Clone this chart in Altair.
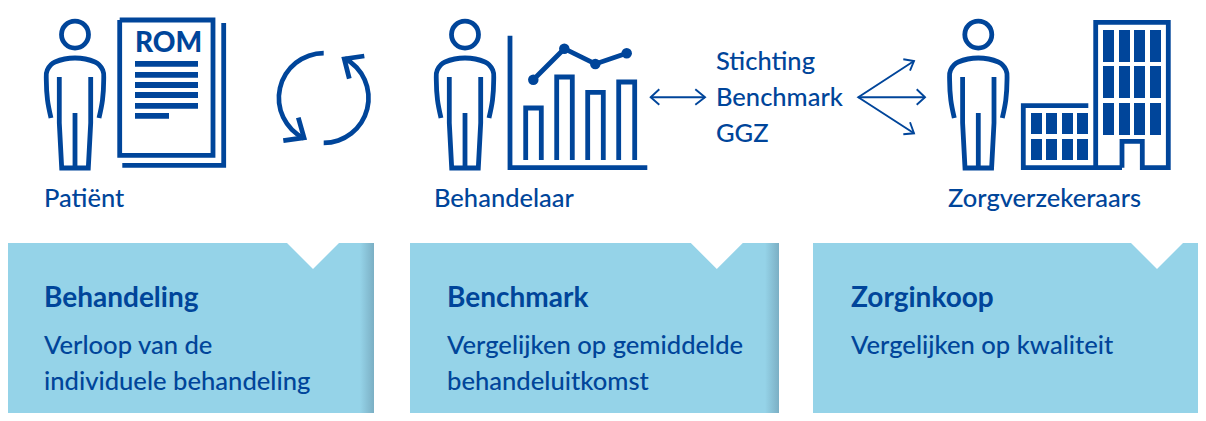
import altair as alt
import pandas as pd

BLUE = "#00459A"
CARD = "#95D3E8"
FONT = "Lato"

# person template (px coordinates in the picture)
person_offsets = [0, 390, 903.3]
person_body = [(51,118),(47.5,100),(46.3,80),(47.3,70),(55,62),(75,58),(95,62),(102.7,70),(103.7,80),(102.5,100),(99,118)]
person_legs = [
    [(59.3,77),(59.3,123),(61.7,168),(88.3,168),(90.7,123),(90.7,77)],
    [(75,113),(75,168)],
]
head_x, head_y = 75, 34.6

thick_paths = [
    # ROM document
    [(119.7,20),(213,20),(213,155.3),(119.7,155.3),(119.7,20)],
    [(122.3,165.3),(223.7,165.3),(223.7,23)],
    # cycle arrow heads
    [(283.3,140.7),(304,137.7),(298.3,117.7)],
    [(364.3,56),(344.3,59),(349.3,78.7)],
    # chart axes and bars
    [(510,35.7),(510,167.7),(647.3,167.7)],
    [(525.7,160),(525.7,108),(541.3,108),(541.3,160)],
    [(556.7,160),(556.7,77),(572.3,77),(572.3,160)],
    [(587.7,160),(587.7,92.3),(603.3,92.3),(603.3,160)],
    [(618.7,160),(618.7,82),(634.7,82),(634.7,160)],
    [(533.3,79.7),(564.3,48.7),(595.3,64),(626.7,53.3)],
    # buildings
    [(1122,167.7),(1122,141.3),(1142.3,141.3),(1142.3,167.7),(1168.3,167.7),(1168.3,22.3),(1095.7,22.3),(1095.7,167.7)],
    [(1122,167.7),(1023.3,167.7),(1023.3,105.7),(1088.3,105.7)],
]
thin_paths = [
    [(650.7,97.3),(705,97.3)],
    [(659.3,89.3),(650.7,97.3),(659.3,104.7)],
    [(695.3,89.3),(705,97.3),(695.3,104.7)],
    [(914,61),(858.3,97.3),(914,133.3)],
    [(858.3,97.3),(925,97.3)],
    [(903.3,59.3),(914,61),(910,70.7)],
    [(916.7,89.3),(925,97.3),(916.7,104.7)],
    [(903.3,134.3),(914,133.3),(910,122.3)],
]
chart_dots_x = [533.3,564.3,595.3,626.7]
chart_dots_y = [79.7,48.7,64,53.3]

rom_lines_y = [(61,66.7),(72,77.7),(82,88),(92,98),(103,108.7)]
rom_line_x = (135,198)
rom_short = (135,169,113,118.7)

tall_cols = [(1103,1114),(1119,1130),(1134,1145),(1150,1161)]
tall_rows = [(30,62),(66,98),(103,135)]
small_cols = [(1031,1042),(1046,1057),(1062,1073),(1077,1088)]
small_rows = [(113,134),(139,160)]

cards = [(7,374),(410,779),(813,1206)]
triangle_tips = [313,716.8,1157]
labels = [
    (44,207,"Patiënt"),(434,207,"Behandelaar"),(948,207,"Zorgverzekeraars"),
    (716,70,"Stichting"),(716,106,"Benchmark"),(716,142,"GGZ"),
]
card_titles = [(44,307,"Behandeling"),(447,307,"Benchmark"),(851,307,"Zorginkoop")]
card_texts = [
    (44,354,"Verloop van de"),(44,390,"individuele behandeling"),
    (447,354,"Vergelijken op gemiddelde"),(447,390,"behandeluitkomst"),
    (851,354,"Vergelijken op kwaliteit"),
]

X = alt.Scale(domain=[8,1198], nice=False, zero=False, clamp=True)
Y = alt.Scale(domain=[413,8], nice=False, zero=False, clamp=True)
x = alt.X("x:Q", scale=X, axis=None)
y = alt.Y("y:Q", scale=Y, axis=None)
x2 = alt.X2("x2:Q")
y2 = alt.Y2("y2:Q")

def paths_df(paths):
    rows = []
    for i, p in enumerate(paths):
        for j, (a, b) in enumerate(p):
            rows.append({"x": a, "y": b, "g": i, "o": j})
    return pd.DataFrame(rows)

def line_layer(paths, width, interp="linear", cap="butt", join="miter"):
    return alt.Chart(paths_df(paths)).mark_line(
        color=BLUE, strokeWidth=width, interpolate=interp, strokeCap=cap, strokeJoin=join
    ).encode(x=x, y=y, detail="g:N", order="o:Q")

def rects(rows, color=BLUE):
    df = pd.DataFrame(rows, columns=["x","x2","y","y2"])
    return alt.Chart(df).mark_rect(color=color).encode(x=x, x2=x2, y=y, y2=y2)

def texts(rows, size, weight="normal", font=FONT):
    df = pd.DataFrame(rows, columns=["x","y","t"])
    return alt.Chart(df).mark_text(align="left", baseline="alphabetic", font=font, fontSize=size,
                                   fontWeight=weight, color=BLUE).encode(x=x, y=y, text="t:N")

layers = []

# cards
layers.append(rects([(a,b,243,421) for a,b in cards], CARD))
shade = alt.LinearGradient(gradient="linear", x1=0, x2=1, y1=0, y2=0,
                           stops=[alt.GradientStop(color=CARD, offset=0),
                                  alt.GradientStop(color="#7BAFC4", offset=1)])
df_sh = pd.DataFrame([(b-14,b,243,421) for a,b in cards[:2]], columns=["x","x2","y","y2"])
layers.append(alt.Chart(df_sh).mark_rect(color=shade).encode(x=x, x2=x2, y=y, y2=y2))
for t in triangle_tips:
    tri = pd.DataFrame({"x":[t-26,t,t+26],"y":[243,243,243],"y2":[243,269,243]})
    layers.append(alt.Chart(tri).mark_area(color="white", interpolate="linear", opacity=1).encode(x=x, y=y, y2=y2))

# persons
for off in person_offsets:
    body = [(a+off,b) for a,b in person_body]
    layers.append(line_layer([body], 4.8, "cardinal"))
    layers.append(line_layer([[(a+off,b) for a,b in p] for p in person_legs], 4.8))
heads = pd.DataFrame({"x":[head_x+o for o in person_offsets],"y":[head_y]*3})
layers.append(alt.Chart(heads).mark_point(shape="circle", size=729, filled=False, color=BLUE, strokeWidth=4.8, opacity=1).encode(x=x, y=y))

layers.append(line_layer(thick_paths, 4.8))
layers.append(line_layer(thin_paths, 1.9))
dots = pd.DataFrame({"x":chart_dots_x,"y":chart_dots_y})
layers.append(alt.Chart(dots).mark_circle(size=110, color=BLUE, opacity=1).encode(x=x, y=y))

# cycle arcs
arc_c = pd.DataFrame({"x":[323.7],"y":[98]})
deg = 3.14159265/180
layers.append(alt.Chart(arc_c).mark_arc(color=BLUE, theta=206*deg, theta2=360*deg, radius=47.2, radius2=42.5).encode(x=x, y=y))
layers.append(alt.Chart(arc_c).mark_arc(color=BLUE, theta=28*deg, theta2=180*deg, radius=47.2, radius2=42.5).encode(x=x, y=y))

# document text lines
layers.append(rects([(rom_line_x[0],rom_line_x[1],a,b) for a,b in rom_lines_y]+[rom_short]))
# windows
layers.append(rects([(a,b,c,d) for a,b in tall_cols for c,d in tall_rows]))
layers.append(rects([(a,b,c,d) for a,b in small_cols for c,d in small_rows]))

# texts
layers.append(texts([(135,52.3,"ROM")], 28, 900))
layers.append(texts(labels, 25.5, 500))
layers.append(texts(card_titles, 28, "bold"))
layers.append(texts(card_texts, 25.6, 500))

chart = alt.layer(*layers).properties(
    width=1190, height=405, padding=0, autosize=alt.AutoSizeParams(type="none")
).configure_view(stroke=None)
chart.save("out.html", embed_options={"renderer": "svg", "actions": False})
